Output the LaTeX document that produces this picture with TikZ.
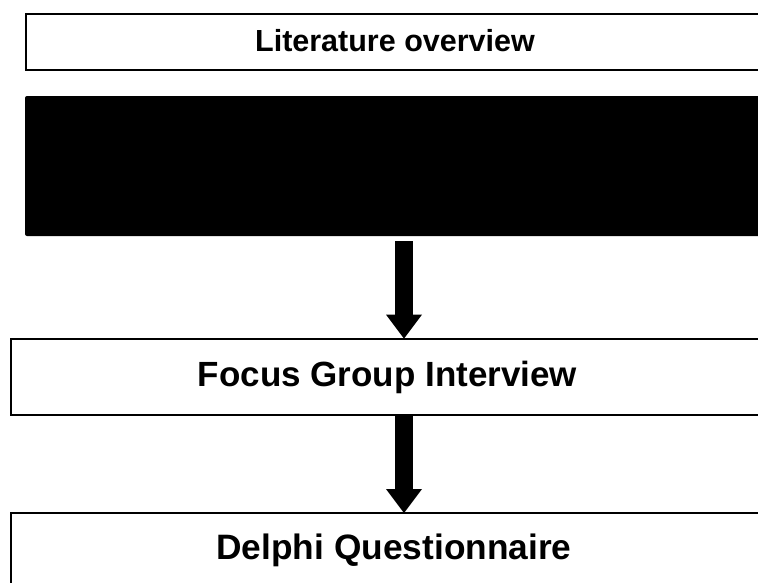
\documentclass[tikz,border=0pt]{standalone}
\usepackage{fontspec}
\setmainfont{Liberation Sans}
\usetikzlibrary{arrows.meta}
\begin{document}
\begin{tikzpicture}[x=1pt,y=-1pt,
  box/.style={draw=black,line width=2.2pt,fill=white,rectangle,inner sep=0pt,outer sep=0pt},
  solidbox/.style={fill=black,rectangle,rounded corners=2pt,inner sep=0pt,outer sep=0pt},
  caption/.style={inner sep=0pt,anchor=base,font=\bfseries},
  flowarrow/.style={line width=18pt,-{Triangle[width=36pt,length=24pt,line width=0pt]}}]
\useasboundingbox (0,0) rectangle (758,582);
\clip (0,0) rectangle (758,582);
% stage boxes (they run past the right edge)
\node[box,minimum width=744pt,minimum height=56.3pt] (lit) at (398,41.75) {};
\node[solidbox,minimum width=745pt,minimum height=140pt] (solid) at (397.5,166) {};
\node[box,minimum width=759.4pt,minimum height=76.3pt] (focus) at (390.3,376.75) {};
\node[box,minimum width=759.4pt,minimum height=87pt] (delphi) at (390.3,556.5) {};
% captions
\node[caption,font=\bfseries\fontsize{30.5}{36}\selectfont] (littext) at (395,51.7) {Literature overview};
\node[caption,font=\bfseries\fontsize{35}{42}\selectfont] (focustext) at (387.5,386.7) {Focus Group Interview};
\node[caption,font=\bfseries\fontsize{35.3}{42}\selectfont] (delphitext) at (394,559.3) {Delphi Questionnaire};
% block arrows between the stages
\coordinate (axis) at (404,0);
\draw[flowarrow] ([yshift=-5pt]solid.south -| axis) -- (focus.north -| axis);
\draw[flowarrow] (focus.south -| axis) -- (delphi.north -| axis);
\end{tikzpicture}
\end{document}
